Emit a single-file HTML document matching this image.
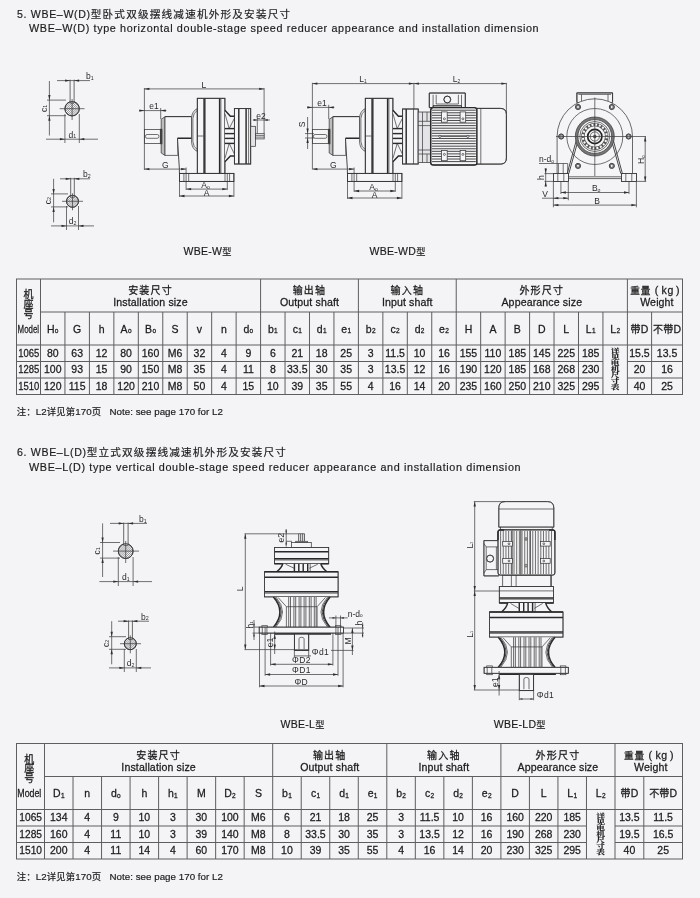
<!DOCTYPE html>
<html lang="zh"><head><meta charset="utf-8"><title>WBE double-stage speed reducer dimensions</title>
<style>
html,body{margin:0;padding:0}
body{width:700px;height:898px;position:relative;overflow:hidden;background:#f4f4f7;
 font-family:"Liberation Sans","Noto Sans CJK SC",sans-serif;font-size:10.5px;color:#1c1c1c;-webkit-text-stroke:.18px #1c1c1c}
.page{position:absolute;left:0;top:0;width:700px;height:898px;overflow:hidden;filter:blur(.28px);
 background:#f4f4f7}
.t{position:absolute;white-space:nowrap;line-height:12px;height:12px}
.cj{font-family:"Liberation Sans","Noto Sans CJK SC",sans-serif;color:#1c1c1c}
.cjv{display:inline-block;font-family:"Liberation Sans","Noto Sans CJK SC",sans-serif;color:#1c1c1c;width:10px;font-size:10px;line-height:9.6px;text-align:center}
.cjr{font-family:"Liberation Serif","Noto Serif CJK SC",serif;font-weight:bold;color:#1c1c1c;width:8.84px;font-size:8.84px;line-height:9.55px;text-align:center;transform:scaleY(0.645);transform-origin:0 0;white-space:nowrap}
.c{-webkit-text-stroke:.26px #1c1c1c;position:absolute;text-align:center;white-space:nowrap;line-height:12px;height:12px}
.c sub{font-size:6.5px;vertical-align:baseline;position:relative;top:0.5px;line-height:0;margin-left:0.3px}
svg.ov{position:absolute;left:0;top:0}
.grid line{stroke:#5e5e60;stroke-width:1}
</style></head>
<body><div class="page">
<div class="t" style="left:17px;top:7.8px;font-size:10.6px;letter-spacing:.66px">5. WBE–W(D)<span class="cj" style="font-size:10.6px;letter-spacing:1.2px">型卧式双级摆线减速机外形及安装尺寸</span></div>
<div class="t" style="left:29px;top:22.2px;font-size:10.8px;letter-spacing:.635px">WBE–W(D) type horizontal double-stage speed reducer appearance and installation dimension</div>
<div class="t" style="left:17px;top:445.6px;font-size:10.6px;letter-spacing:.66px">6. WBE–L(D)<span class="cj" style="font-size:10.6px;letter-spacing:1.2px">型立式双级摆线减速机外形及安装尺寸</span></div>
<div class="t" style="left:29px;top:461.2px;font-size:10.8px;letter-spacing:.635px">WBE–L(D) type vertical double-stage speed reducer appearance and installation dimension</div>
<div class="t" style="left:183.5px;top:245px;font-size:10.5px;letter-spacing:.3px">WBE-W<span class="cj" style="font-size:9.2px">型</span></div>
<div class="t" style="left:369.5px;top:245px;font-size:10.5px;letter-spacing:.3px">WBE-WD<span class="cj" style="font-size:9.2px">型</span></div>
<div class="t" style="left:280.5px;top:718.3px;font-size:10.5px;letter-spacing:.3px">WBE-L<span class="cj" style="font-size:9.2px">型</span></div>
<div class="t" style="left:493.7px;top:718.3px;font-size:10.5px;letter-spacing:.3px">WBE-LD<span class="cj" style="font-size:9.2px">型</span></div>
<div class="t" style="left:16.8px;top:406.3px;font-size:9.75px;letter-spacing:.03px"><span class="cj" style="font-size:9.4px;letter-spacing:.15px">注：</span>L2<span class="cj" style="font-size:9.4px;letter-spacing:.15px">详见第</span>170<span class="cj" style="font-size:9.4px;letter-spacing:.15px">页</span>&nbsp;&nbsp; Note: see page 170 for L2</div>
<div class="t" style="left:16.8px;top:870.8px;font-size:9.75px;letter-spacing:.03px"><span class="cj" style="font-size:9.4px;letter-spacing:.15px">注：</span>L2<span class="cj" style="font-size:9.4px;letter-spacing:.15px">详见第</span>170<span class="cj" style="font-size:9.4px;letter-spacing:.15px">页</span>&nbsp;&nbsp; Note: see page 170 for L2</div>
<svg class="ov grid" width="700" height="898" viewBox="0 0 700 898"><line x1="16.0" y1="279" x2="683.0" y2="279" stroke-width="1.2"/><line x1="16.0" y1="394.5" x2="683.0" y2="394.5" stroke-width="1.2"/><line x1="16.5" y1="279" x2="16.5" y2="394.5" stroke-width="1.2"/><line x1="682.5" y1="279" x2="682.5" y2="394.5" stroke-width="1.2"/><line x1="40.5" y1="312" x2="682.5" y2="312" stroke-width="1"/><line x1="16.5" y1="345" x2="682.5" y2="345" stroke-width="1"/><line x1="16.5" y1="361.5" x2="602.94" y2="361.5" stroke-width="1"/><line x1="627.4" y1="361.5" x2="682.5" y2="361.5" stroke-width="1"/><line x1="16.5" y1="378" x2="602.94" y2="378" stroke-width="1"/><line x1="627.4" y1="378" x2="682.5" y2="378" stroke-width="1"/><line x1="40.5" y1="279" x2="40.5" y2="394.5" stroke-width="1.1"/><line x1="64.95" y1="312" x2="64.95" y2="394.5" stroke-width="1"/><line x1="89.41" y1="312" x2="89.41" y2="394.5" stroke-width="1"/><line x1="113.86" y1="312" x2="113.86" y2="394.5" stroke-width="1"/><line x1="138.32" y1="312" x2="138.32" y2="394.5" stroke-width="1"/><line x1="162.77" y1="312" x2="162.77" y2="394.5" stroke-width="1"/><line x1="187.22" y1="312" x2="187.22" y2="394.5" stroke-width="1"/><line x1="211.68" y1="312" x2="211.68" y2="394.5" stroke-width="1"/><line x1="236.13" y1="312" x2="236.13" y2="394.5" stroke-width="1"/><line x1="260.59" y1="279" x2="260.59" y2="394.5" stroke-width="1.1"/><line x1="285.04" y1="312" x2="285.04" y2="394.5" stroke-width="1"/><line x1="309.49" y1="312" x2="309.49" y2="394.5" stroke-width="1"/><line x1="333.95" y1="312" x2="333.95" y2="394.5" stroke-width="1"/><line x1="358.4" y1="279" x2="358.4" y2="394.5" stroke-width="1.1"/><line x1="382.86" y1="312" x2="382.86" y2="394.5" stroke-width="1"/><line x1="407.31" y1="312" x2="407.31" y2="394.5" stroke-width="1"/><line x1="431.76" y1="312" x2="431.76" y2="394.5" stroke-width="1"/><line x1="456.22" y1="279" x2="456.22" y2="394.5" stroke-width="1.1"/><line x1="480.67" y1="312" x2="480.67" y2="394.5" stroke-width="1"/><line x1="505.13" y1="312" x2="505.13" y2="394.5" stroke-width="1"/><line x1="529.58" y1="312" x2="529.58" y2="394.5" stroke-width="1"/><line x1="554.03" y1="312" x2="554.03" y2="394.5" stroke-width="1"/><line x1="578.49" y1="312" x2="578.49" y2="394.5" stroke-width="1"/><line x1="602.94" y1="312" x2="602.94" y2="394.5" stroke-width="1"/><line x1="627.4" y1="279" x2="627.4" y2="394.5" stroke-width="1.1"/><line x1="651.6" y1="312" x2="651.6" y2="394.5" stroke-width="1"/></svg>
<div class="c" style="left:16.5px;width:24.0px;top:290.4px;height:30px;line-height:0"><span class="cjv">机<br>座<br>号</span></div>
<div class="c" style="left:12.5px;width:32.0px;top:322.6px"><span style="display:inline-block;transform:scaleX(0.75);font-size:10.5px">Model</span></div>
<div class="c" style="left:40.5px;width:220.09px;top:284.4px"><span class="cj" style="font-size:10px;letter-spacing:1.2px">安装尺寸</span></div>
<div class="c g2" style="left:40.5px;width:220.09px;top:296.3px;letter-spacing:.12px;font-size:10.6px">Installation size</div>
<div class="c" style="left:260.59px;width:97.81px;top:284.4px"><span class="cj" style="font-size:10px;letter-spacing:1.2px">输出轴</span></div>
<div class="c g2" style="left:260.59px;width:97.81px;top:296.3px;letter-spacing:.12px;font-size:10.6px">Output shaft</div>
<div class="c" style="left:358.4px;width:97.82px;top:284.4px"><span class="cj" style="font-size:10px;letter-spacing:1.2px">输入轴</span></div>
<div class="c g2" style="left:358.4px;width:97.82px;top:296.3px;letter-spacing:.12px;font-size:10.6px">Input shaft</div>
<div class="c" style="left:456.22px;width:171.18px;top:284.4px"><span class="cj" style="font-size:10px;letter-spacing:1.2px">外形尺寸</span></div>
<div class="c g2" style="left:456.22px;width:171.18px;top:296.3px;letter-spacing:.12px;font-size:10.6px">Appearance size</div>
<div class="c" style="left:627.4px;width:55.1px;top:284.4px"><span class="cj" style="font-size:9.6px;letter-spacing:.9px">重量</span><span style="letter-spacing:.3px;margin-left:3.5px">(</span><span style="letter-spacing:.6px;margin:0 2.2px 0 3px">kg</span><span>)</span></div>
<div class="c g2" style="left:627.4px;width:55.1px;top:296.3px;letter-spacing:.12px;font-size:10.6px"><span style='margin-left:4px'>Weight</span></div>
<div class="c" style="left:37.5px;width:30.45px;top:322.5px">H<sub>o</sub></div>
<div class="c" style="left:61.95px;width:30.46px;top:322.5px">G</div>
<div class="c" style="left:86.41px;width:30.45px;top:322.5px">h</div>
<div class="c" style="left:110.86px;width:30.46px;top:322.5px">A<sub>o</sub></div>
<div class="c" style="left:135.32px;width:30.45px;top:322.5px">B<sub>o</sub></div>
<div class="c" style="left:159.77px;width:30.45px;top:322.5px">S</div>
<div class="c" style="left:184.22px;width:30.46px;top:322.5px">v</div>
<div class="c" style="left:208.68px;width:30.45px;top:322.5px">n</div>
<div class="c" style="left:233.13px;width:30.46px;top:322.5px">d<sub>o</sub></div>
<div class="c" style="left:257.59px;width:30.45px;top:322.5px">b<sub>1</sub></div>
<div class="c" style="left:282.04px;width:30.45px;top:322.5px">c<sub>1</sub></div>
<div class="c" style="left:306.49px;width:30.46px;top:322.5px">d<sub>1</sub></div>
<div class="c" style="left:330.95px;width:30.45px;top:322.5px">e<sub>1</sub></div>
<div class="c" style="left:355.4px;width:30.46px;top:322.5px">b<sub>2</sub></div>
<div class="c" style="left:379.86px;width:30.45px;top:322.5px">c<sub>2</sub></div>
<div class="c" style="left:404.31px;width:30.45px;top:322.5px">d<sub>2</sub></div>
<div class="c" style="left:428.76px;width:30.46px;top:322.5px">e<sub>2</sub></div>
<div class="c" style="left:453.22px;width:30.45px;top:322.5px">H</div>
<div class="c" style="left:477.67px;width:30.46px;top:322.5px">A</div>
<div class="c" style="left:502.13px;width:30.45px;top:322.5px">B</div>
<div class="c" style="left:526.58px;width:30.45px;top:322.5px">D</div>
<div class="c" style="left:551.03px;width:30.46px;top:322.5px">L</div>
<div class="c" style="left:575.49px;width:30.45px;top:322.5px">L<sub>1</sub></div>
<div class="c" style="left:599.94px;width:30.46px;top:322.5px">L<sub>2</sub></div>
<div class="c" style="left:624.4px;width:30.2px;top:322.5px"><span class="cj" style="font-size:10px;letter-spacing:.2px">带</span>D</div>
<div class="c" style="left:648.6px;width:36.9px;top:322.5px"><span class="cj" style="font-size:10px;letter-spacing:.2px">不带</span>D</div>
<div class="c" style="left:13.5px;width:30.0px;top:346.75px"><span style="display:inline-block;transform:scaleX(0.9)">1065</span></div>
<div class="c" style="left:37.5px;width:30.45px;top:346.75px">80</div>
<div class="c" style="left:61.95px;width:30.46px;top:346.75px">63</div>
<div class="c" style="left:86.41px;width:30.45px;top:346.75px">12</div>
<div class="c" style="left:110.86px;width:30.46px;top:346.75px">80</div>
<div class="c" style="left:135.32px;width:30.45px;top:346.75px">160</div>
<div class="c" style="left:159.77px;width:30.45px;top:346.75px">M6</div>
<div class="c" style="left:184.22px;width:30.46px;top:346.75px">32</div>
<div class="c" style="left:208.68px;width:30.45px;top:346.75px">4</div>
<div class="c" style="left:233.13px;width:30.46px;top:346.75px">9</div>
<div class="c" style="left:257.59px;width:30.45px;top:346.75px">6</div>
<div class="c" style="left:282.04px;width:30.45px;top:346.75px">21</div>
<div class="c" style="left:306.49px;width:30.46px;top:346.75px">18</div>
<div class="c" style="left:330.95px;width:30.45px;top:346.75px">25</div>
<div class="c" style="left:355.4px;width:30.46px;top:346.75px">3</div>
<div class="c" style="left:379.86px;width:30.45px;top:346.75px">11.5</div>
<div class="c" style="left:404.31px;width:30.45px;top:346.75px">10</div>
<div class="c" style="left:428.76px;width:30.46px;top:346.75px">16</div>
<div class="c" style="left:453.22px;width:30.45px;top:346.75px">155</div>
<div class="c" style="left:477.67px;width:30.46px;top:346.75px">110</div>
<div class="c" style="left:502.13px;width:30.45px;top:346.75px">185</div>
<div class="c" style="left:526.58px;width:30.45px;top:346.75px">145</div>
<div class="c" style="left:551.03px;width:30.46px;top:346.75px">225</div>
<div class="c" style="left:575.49px;width:30.45px;top:346.75px">185</div>
<div class="c" style="left:624.4px;width:30.2px;top:346.75px">15.5</div>
<div class="c" style="left:648.6px;width:36.9px;top:346.75px">13.5</div>
<div class="c" style="left:13.5px;width:30.0px;top:363.25px"><span style="display:inline-block;transform:scaleX(0.9)">1285</span></div>
<div class="c" style="left:37.5px;width:30.45px;top:363.25px">100</div>
<div class="c" style="left:61.95px;width:30.46px;top:363.25px">93</div>
<div class="c" style="left:86.41px;width:30.45px;top:363.25px">15</div>
<div class="c" style="left:110.86px;width:30.46px;top:363.25px">90</div>
<div class="c" style="left:135.32px;width:30.45px;top:363.25px">150</div>
<div class="c" style="left:159.77px;width:30.45px;top:363.25px">M8</div>
<div class="c" style="left:184.22px;width:30.46px;top:363.25px">35</div>
<div class="c" style="left:208.68px;width:30.45px;top:363.25px">4</div>
<div class="c" style="left:233.13px;width:30.46px;top:363.25px">11</div>
<div class="c" style="left:257.59px;width:30.45px;top:363.25px">8</div>
<div class="c" style="left:282.04px;width:30.45px;top:363.25px">33.5</div>
<div class="c" style="left:306.49px;width:30.46px;top:363.25px">30</div>
<div class="c" style="left:330.95px;width:30.45px;top:363.25px">35</div>
<div class="c" style="left:355.4px;width:30.46px;top:363.25px">3</div>
<div class="c" style="left:379.86px;width:30.45px;top:363.25px">13.5</div>
<div class="c" style="left:404.31px;width:30.45px;top:363.25px">12</div>
<div class="c" style="left:428.76px;width:30.46px;top:363.25px">16</div>
<div class="c" style="left:453.22px;width:30.45px;top:363.25px">190</div>
<div class="c" style="left:477.67px;width:30.46px;top:363.25px">120</div>
<div class="c" style="left:502.13px;width:30.45px;top:363.25px">185</div>
<div class="c" style="left:526.58px;width:30.45px;top:363.25px">168</div>
<div class="c" style="left:551.03px;width:30.46px;top:363.25px">268</div>
<div class="c" style="left:575.49px;width:30.45px;top:363.25px">230</div>
<div class="c" style="left:624.4px;width:30.2px;top:363.25px">20</div>
<div class="c" style="left:648.6px;width:36.9px;top:363.25px">16</div>
<div class="c" style="left:13.5px;width:30.0px;top:379.75px"><span style="display:inline-block;transform:scaleX(0.9)">1510</span></div>
<div class="c" style="left:37.5px;width:30.45px;top:379.75px">120</div>
<div class="c" style="left:61.95px;width:30.46px;top:379.75px">115</div>
<div class="c" style="left:86.41px;width:30.45px;top:379.75px">18</div>
<div class="c" style="left:110.86px;width:30.46px;top:379.75px">120</div>
<div class="c" style="left:135.32px;width:30.45px;top:379.75px">210</div>
<div class="c" style="left:159.77px;width:30.45px;top:379.75px">M8</div>
<div class="c" style="left:184.22px;width:30.46px;top:379.75px">50</div>
<div class="c" style="left:208.68px;width:30.45px;top:379.75px">4</div>
<div class="c" style="left:233.13px;width:30.46px;top:379.75px">15</div>
<div class="c" style="left:257.59px;width:30.45px;top:379.75px">10</div>
<div class="c" style="left:282.04px;width:30.45px;top:379.75px">39</div>
<div class="c" style="left:306.49px;width:30.46px;top:379.75px">35</div>
<div class="c" style="left:330.95px;width:30.45px;top:379.75px">55</div>
<div class="c" style="left:355.4px;width:30.46px;top:379.75px">4</div>
<div class="c" style="left:379.86px;width:30.45px;top:379.75px">16</div>
<div class="c" style="left:404.31px;width:30.45px;top:379.75px">14</div>
<div class="c" style="left:428.76px;width:30.46px;top:379.75px">20</div>
<div class="c" style="left:453.22px;width:30.45px;top:379.75px">235</div>
<div class="c" style="left:477.67px;width:30.46px;top:379.75px">160</div>
<div class="c" style="left:502.13px;width:30.45px;top:379.75px">250</div>
<div class="c" style="left:526.58px;width:30.45px;top:379.75px">210</div>
<div class="c" style="left:551.03px;width:30.46px;top:379.75px">325</div>
<div class="c" style="left:575.49px;width:30.45px;top:379.75px">295</div>
<div class="c" style="left:624.4px;width:30.2px;top:379.75px">40</div>
<div class="c" style="left:648.6px;width:36.9px;top:379.75px">25</div>
<div style="position:absolute;left:610.77px;top:348.1px"><div class="cjr">详<br>见<br>电<br>机<br>尺<br>寸<br>表</div></div>
<svg class="ov grid" width="700" height="898" viewBox="0 0 700 898"><line x1="16.0" y1="743.5" x2="683.0" y2="743.5" stroke-width="1.2"/><line x1="16.0" y1="859" x2="683.0" y2="859" stroke-width="1.2"/><line x1="16.5" y1="743.5" x2="16.5" y2="859" stroke-width="1.2"/><line x1="682.5" y1="743.5" x2="682.5" y2="859" stroke-width="1.2"/><line x1="44.5" y1="776.5" x2="682.5" y2="776.5" stroke-width="1"/><line x1="16.5" y1="809.5" x2="682.5" y2="809.5" stroke-width="1"/><line x1="16.5" y1="826" x2="586.48" y2="826" stroke-width="1"/><line x1="615.0" y1="826" x2="682.5" y2="826" stroke-width="1"/><line x1="16.5" y1="842.5" x2="586.48" y2="842.5" stroke-width="1"/><line x1="615.0" y1="842.5" x2="682.5" y2="842.5" stroke-width="1"/><line x1="44.5" y1="743.5" x2="44.5" y2="859" stroke-width="1.1"/><line x1="73.03" y1="776.5" x2="73.03" y2="859" stroke-width="1"/><line x1="101.55" y1="776.5" x2="101.55" y2="859" stroke-width="1"/><line x1="130.07" y1="776.5" x2="130.07" y2="859" stroke-width="1"/><line x1="158.6" y1="776.5" x2="158.6" y2="859" stroke-width="1"/><line x1="187.12" y1="776.5" x2="187.12" y2="859" stroke-width="1"/><line x1="215.65" y1="776.5" x2="215.65" y2="859" stroke-width="1"/><line x1="244.17" y1="776.5" x2="244.17" y2="859" stroke-width="1"/><line x1="272.7" y1="743.5" x2="272.7" y2="859" stroke-width="1.1"/><line x1="301.22" y1="776.5" x2="301.22" y2="859" stroke-width="1"/><line x1="329.75" y1="776.5" x2="329.75" y2="859" stroke-width="1"/><line x1="358.27" y1="776.5" x2="358.27" y2="859" stroke-width="1"/><line x1="386.8" y1="743.5" x2="386.8" y2="859" stroke-width="1.1"/><line x1="415.32" y1="776.5" x2="415.32" y2="859" stroke-width="1"/><line x1="443.85" y1="776.5" x2="443.85" y2="859" stroke-width="1"/><line x1="472.38" y1="776.5" x2="472.38" y2="859" stroke-width="1"/><line x1="500.9" y1="743.5" x2="500.9" y2="859" stroke-width="1.1"/><line x1="529.42" y1="776.5" x2="529.42" y2="859" stroke-width="1"/><line x1="557.95" y1="776.5" x2="557.95" y2="859" stroke-width="1"/><line x1="586.48" y1="776.5" x2="586.48" y2="859" stroke-width="1"/><line x1="615.0" y1="743.5" x2="615.0" y2="859" stroke-width="1.1"/><line x1="643.8" y1="776.5" x2="643.8" y2="859" stroke-width="1"/></svg>
<div class="c" style="left:15.3px;width:28.0px;top:754.9px;height:30px;line-height:0"><span class="cjv">机<br>座<br>号</span></div>
<div class="c" style="left:11.3px;width:36.0px;top:787.1px"><span style="display:inline-block;transform:scaleX(0.84);font-size:10.5px">Model</span></div>
<div class="c" style="left:44.5px;width:228.2px;top:748.9px"><span class="cj" style="font-size:10px;letter-spacing:1.2px">安装尺寸</span></div>
<div class="c g2" style="left:44.5px;width:228.2px;top:760.8px;letter-spacing:.12px;font-size:10.6px">Installation size</div>
<div class="c" style="left:272.7px;width:114.1px;top:748.9px"><span class="cj" style="font-size:10px;letter-spacing:1.2px">输出轴</span></div>
<div class="c g2" style="left:272.7px;width:114.1px;top:760.8px;letter-spacing:.12px;font-size:10.6px">Output shaft</div>
<div class="c" style="left:386.8px;width:114.1px;top:748.9px"><span class="cj" style="font-size:10px;letter-spacing:1.2px">输入轴</span></div>
<div class="c g2" style="left:386.8px;width:114.1px;top:760.8px;letter-spacing:.12px;font-size:10.6px">Input shaft</div>
<div class="c" style="left:500.9px;width:114.1px;top:748.9px"><span class="cj" style="font-size:10px;letter-spacing:1.2px">外形尺寸</span></div>
<div class="c g2" style="left:500.9px;width:114.1px;top:760.8px;letter-spacing:.12px;font-size:10.6px">Appearance size</div>
<div class="c" style="left:615.0px;width:67.5px;top:748.9px"><span class="cj" style="font-size:9.6px;letter-spacing:.9px">重量</span><span style="letter-spacing:.3px;margin-left:3.5px">(</span><span style="letter-spacing:.6px;margin:0 2.2px 0 3px">kg</span><span>)</span></div>
<div class="c g2" style="left:615.0px;width:67.5px;top:760.8px;letter-spacing:.12px;font-size:10.6px"><span style='margin-left:4px'>Weight</span></div>
<div class="c" style="left:41.5px;width:34.53px;top:787.0px">D<sub>1</sub></div>
<div class="c" style="left:70.03px;width:34.52px;top:787.0px">n</div>
<div class="c" style="left:98.55px;width:34.52px;top:787.0px">d<sub>o</sub></div>
<div class="c" style="left:127.07px;width:34.53px;top:787.0px">h</div>
<div class="c" style="left:155.6px;width:34.52px;top:787.0px">h<sub>1</sub></div>
<div class="c" style="left:184.12px;width:34.53px;top:787.0px">M</div>
<div class="c" style="left:212.65px;width:34.52px;top:787.0px">D<sub>2</sub></div>
<div class="c" style="left:241.17px;width:34.53px;top:787.0px">S</div>
<div class="c" style="left:269.7px;width:34.52px;top:787.0px">b<sub>1</sub></div>
<div class="c" style="left:298.22px;width:34.53px;top:787.0px">c<sub>1</sub></div>
<div class="c" style="left:326.75px;width:34.52px;top:787.0px">d<sub>1</sub></div>
<div class="c" style="left:355.27px;width:34.53px;top:787.0px">e<sub>1</sub></div>
<div class="c" style="left:383.8px;width:34.52px;top:787.0px">b<sub>2</sub></div>
<div class="c" style="left:412.32px;width:34.53px;top:787.0px">c<sub>2</sub></div>
<div class="c" style="left:440.85px;width:34.53px;top:787.0px">d<sub>2</sub></div>
<div class="c" style="left:469.38px;width:34.52px;top:787.0px">e<sub>2</sub></div>
<div class="c" style="left:497.9px;width:34.52px;top:787.0px">D</div>
<div class="c" style="left:526.42px;width:34.53px;top:787.0px">L</div>
<div class="c" style="left:554.95px;width:34.53px;top:787.0px">L<sub>1</sub></div>
<div class="c" style="left:583.48px;width:34.52px;top:787.0px">L<sub>2</sub></div>
<div class="c" style="left:612.0px;width:34.8px;top:787.0px"><span class="cj" style="font-size:10px;letter-spacing:.2px">带</span>D</div>
<div class="c" style="left:640.8px;width:44.7px;top:787.0px"><span class="cj" style="font-size:10px;letter-spacing:.2px">不带</span>D</div>
<div class="c" style="left:13.5px;width:34.0px;top:811.25px"><span style="display:inline-block;transform:scaleX(0.97)">1065</span></div>
<div class="c" style="left:41.5px;width:34.53px;top:811.25px">134</div>
<div class="c" style="left:70.03px;width:34.52px;top:811.25px">4</div>
<div class="c" style="left:98.55px;width:34.52px;top:811.25px">9</div>
<div class="c" style="left:127.07px;width:34.53px;top:811.25px">10</div>
<div class="c" style="left:155.6px;width:34.52px;top:811.25px">3</div>
<div class="c" style="left:184.12px;width:34.53px;top:811.25px">30</div>
<div class="c" style="left:212.65px;width:34.52px;top:811.25px">100</div>
<div class="c" style="left:241.17px;width:34.53px;top:811.25px">M6</div>
<div class="c" style="left:269.7px;width:34.52px;top:811.25px">6</div>
<div class="c" style="left:298.22px;width:34.53px;top:811.25px">21</div>
<div class="c" style="left:326.75px;width:34.52px;top:811.25px">18</div>
<div class="c" style="left:355.27px;width:34.53px;top:811.25px">25</div>
<div class="c" style="left:383.8px;width:34.52px;top:811.25px">3</div>
<div class="c" style="left:412.32px;width:34.53px;top:811.25px">11.5</div>
<div class="c" style="left:440.85px;width:34.53px;top:811.25px">10</div>
<div class="c" style="left:469.38px;width:34.52px;top:811.25px">16</div>
<div class="c" style="left:497.9px;width:34.52px;top:811.25px">160</div>
<div class="c" style="left:526.42px;width:34.53px;top:811.25px">220</div>
<div class="c" style="left:554.95px;width:34.53px;top:811.25px">185</div>
<div class="c" style="left:612.0px;width:34.8px;top:811.25px">13.5</div>
<div class="c" style="left:640.8px;width:44.7px;top:811.25px">11.5</div>
<div class="c" style="left:13.5px;width:34.0px;top:827.75px"><span style="display:inline-block;transform:scaleX(0.97)">1285</span></div>
<div class="c" style="left:41.5px;width:34.53px;top:827.75px">160</div>
<div class="c" style="left:70.03px;width:34.52px;top:827.75px">4</div>
<div class="c" style="left:98.55px;width:34.52px;top:827.75px">11</div>
<div class="c" style="left:127.07px;width:34.53px;top:827.75px">10</div>
<div class="c" style="left:155.6px;width:34.52px;top:827.75px">3</div>
<div class="c" style="left:184.12px;width:34.53px;top:827.75px">39</div>
<div class="c" style="left:212.65px;width:34.52px;top:827.75px">140</div>
<div class="c" style="left:241.17px;width:34.53px;top:827.75px">M8</div>
<div class="c" style="left:269.7px;width:34.52px;top:827.75px">8</div>
<div class="c" style="left:298.22px;width:34.53px;top:827.75px">33.5</div>
<div class="c" style="left:326.75px;width:34.52px;top:827.75px">30</div>
<div class="c" style="left:355.27px;width:34.53px;top:827.75px">35</div>
<div class="c" style="left:383.8px;width:34.52px;top:827.75px">3</div>
<div class="c" style="left:412.32px;width:34.53px;top:827.75px">13.5</div>
<div class="c" style="left:440.85px;width:34.53px;top:827.75px">12</div>
<div class="c" style="left:469.38px;width:34.52px;top:827.75px">16</div>
<div class="c" style="left:497.9px;width:34.52px;top:827.75px">190</div>
<div class="c" style="left:526.42px;width:34.53px;top:827.75px">268</div>
<div class="c" style="left:554.95px;width:34.53px;top:827.75px">230</div>
<div class="c" style="left:612.0px;width:34.8px;top:827.75px">19.5</div>
<div class="c" style="left:640.8px;width:44.7px;top:827.75px">16.5</div>
<div class="c" style="left:13.5px;width:34.0px;top:844.25px"><span style="display:inline-block;transform:scaleX(0.97)">1510</span></div>
<div class="c" style="left:41.5px;width:34.53px;top:844.25px">200</div>
<div class="c" style="left:70.03px;width:34.52px;top:844.25px">4</div>
<div class="c" style="left:98.55px;width:34.52px;top:844.25px">11</div>
<div class="c" style="left:127.07px;width:34.53px;top:844.25px">14</div>
<div class="c" style="left:155.6px;width:34.52px;top:844.25px">4</div>
<div class="c" style="left:184.12px;width:34.53px;top:844.25px">60</div>
<div class="c" style="left:212.65px;width:34.52px;top:844.25px">170</div>
<div class="c" style="left:241.17px;width:34.53px;top:844.25px">M8</div>
<div class="c" style="left:269.7px;width:34.52px;top:844.25px">10</div>
<div class="c" style="left:298.22px;width:34.53px;top:844.25px">39</div>
<div class="c" style="left:326.75px;width:34.52px;top:844.25px">35</div>
<div class="c" style="left:355.27px;width:34.53px;top:844.25px">55</div>
<div class="c" style="left:383.8px;width:34.52px;top:844.25px">4</div>
<div class="c" style="left:412.32px;width:34.53px;top:844.25px">16</div>
<div class="c" style="left:440.85px;width:34.53px;top:844.25px">14</div>
<div class="c" style="left:469.38px;width:34.52px;top:844.25px">20</div>
<div class="c" style="left:497.9px;width:34.52px;top:844.25px">230</div>
<div class="c" style="left:526.42px;width:34.53px;top:844.25px">325</div>
<div class="c" style="left:554.95px;width:34.53px;top:844.25px">295</div>
<div class="c" style="left:612.0px;width:34.8px;top:844.25px">40</div>
<div class="c" style="left:640.8px;width:44.7px;top:844.25px">25</div>
<div style="position:absolute;left:596.34px;top:812.6px"><div class="cjr">详<br>见<br>电<br>机<br>尺<br>寸<br>表</div></div>
<svg class="ov dw" width="700" height="898" viewBox="0 0 700 898">
<style>
.dw{fill:none;stroke:#3a3a3a;stroke-width:.75;stroke-linecap:butt;stroke-linejoin:miter}
.dw .d{stroke:#3c3c3c;stroke-width:.72}
.dw .b{stroke:#2a2a2a;stroke-width:1.45}
.dw .m{stroke:#363636;stroke-width:.9}
.dw .a{fill:#2e2e2e;stroke:none}
.dw .w{fill:#f5f5f8}
.dw .g{fill:#e4e4e8}
.dw .gg{fill:#bdbdbd}
.dw .k{fill:#444}
.dw text{fill:#2a2a2a;stroke:none;font-family:"Liberation Sans",sans-serif;font-size:8.5px}
.dw .hs{stroke:#3a3a3a;stroke-width:.5}
</style>
<g><circle class="w" cx="72.1" cy="108.7" r="7.2"/><clipPath id="kh1"><circle cx="72.1" cy="108.7" r="7.2"/></clipPath><g clip-path="url(#kh1)" class="hs"><path d="M50.5 115.9L64.9 101.5"/><path d="M52.6 115.9L67 101.5"/><path d="M54.7 115.9L69.1 101.5"/><path d="M56.8 115.9L71.2 101.5"/><path d="M58.9 115.9L73.3 101.5"/><path d="M61 115.9L75.4 101.5"/><path d="M63.1 115.9L77.5 101.5"/><path d="M65.2 115.9L79.6 101.5"/><path d="M67.3 115.9L81.7 101.5"/><path d="M69.4 115.9L83.8 101.5"/><path d="M71.5 115.9L85.9 101.5"/><path d="M73.6 115.9L88 101.5"/><path d="M75.7 115.9L90.1 101.5"/><path d="M77.8 115.9L92.2 101.5"/></g><path class="w" stroke="none" d="M70.1 101H74.1V103H70.1Z"/><circle class="m" cx="72.1" cy="108.7" r="7.2"/><path d="M70.1 79.6L70.1 103"/><path d="M74.1 79.6L74.1 103"/><path d="M70.1 103L74.1 103"/><path class="d" d="M57 80.6L90 80.6"/><path class="a" d="M70.1 80.6L65.1 81.75L65.1 79.45Z"/><path class="a" d="M74.1 80.6L79.1 79.45L79.1 81.75Z"/><text x="86" y="79.2" font-size="8.5" text-anchor="start">b<tspan font-size="5.27" dy="0.6">1</tspan></text><path class="d" d="M49.4 81L49.4 135.5"/><path class="d" d="M47 100.1L66 100.1"/><path class="d" d="M47 115.7L66 115.7"/><path class="a" d="M49.4 100.1L48.25 95.1L50.55 95.1Z"/><path class="a" d="M49.4 115.7L50.55 120.7L48.25 120.7Z"/><text x="46.6" y="108.4" font-size="8.5" text-anchor="middle" transform="rotate(-90 46.6 108.4)">c<tspan font-size="5.27" dy="0.6">1</tspan></text><path class="d" d="M46 139.2L98 139.2"/><path class="d" d="M64.9 114L64.9 143"/><path class="d" d="M79.3 114L79.3 143"/><path class="a" d="M64.9 139.2L59.9 140.35L59.9 138.05Z"/><path class="a" d="M79.3 139.2L84.3 138.05L84.3 140.35Z"/><text x="72.3" y="137.6" font-size="8.5" text-anchor="middle">d<tspan font-size="5.27" dy="0.6">1</tspan></text><path class="d" d="M59.7 108.7L84.5 108.7"/><path class="d" d="M72.1 99L72.1 120"/></g><g><circle class="w" cx="72.5" cy="201.3" r="6"/><clipPath id="kh2"><circle cx="72.5" cy="201.3" r="6"/></clipPath><g clip-path="url(#kh2)" class="hs"><path d="M54.5 207.3L66.5 195.3"/><path d="M56.6 207.3L68.6 195.3"/><path d="M58.7 207.3L70.7 195.3"/><path d="M60.8 207.3L72.8 195.3"/><path d="M62.9 207.3L74.9 195.3"/><path d="M65 207.3L77 195.3"/><path d="M67.1 207.3L79.1 195.3"/><path d="M69.2 207.3L81.2 195.3"/><path d="M71.3 207.3L83.3 195.3"/><path d="M73.4 207.3L85.4 195.3"/><path d="M75.5 207.3L87.5 195.3"/><path d="M77.6 207.3L89.6 195.3"/></g><path class="w" stroke="none" d="M70.7 194.8H74.3V197.2H70.7Z"/><circle class="m" cx="72.5" cy="201.3" r="6"/><path d="M70.7 177.8L70.7 197.2"/><path d="M74.3 177.8L74.3 197.2"/><path d="M70.7 197.2L74.3 197.2"/><path class="d" d="M60 178.8L90 178.8"/><path class="a" d="M70.7 178.8L65.7 179.95L65.7 177.65Z"/><path class="a" d="M74.3 178.8L79.3 177.65L79.3 179.95Z"/><text x="83" y="177.4" font-size="8.5" text-anchor="start">b<tspan font-size="5.27" dy="0.6">2</tspan></text><path class="d" d="M53.6 178.8L53.6 222.3"/><path class="d" d="M51 193.9L68 193.9"/><path class="d" d="M51 206.9L68 206.9"/><path class="a" d="M53.6 193.9L52.45 188.9L54.75 188.9Z"/><path class="a" d="M53.6 206.9L54.75 211.9L52.45 211.9Z"/><text x="50.8" y="200.6" font-size="8.5" text-anchor="middle" transform="rotate(-90 50.8 200.6)">c<tspan font-size="5.27" dy="0.6">2</tspan></text><path class="d" d="M51 225.9L94 225.9"/><path class="d" d="M66.5 206L66.5 230"/><path class="d" d="M78.5 206L78.5 230"/><path class="a" d="M66.5 225.9L61.5 227.05L61.5 224.75Z"/><path class="a" d="M78.5 225.9L83.5 224.75L83.5 227.05Z"/><text x="72.7" y="224.3" font-size="8.5" text-anchor="middle">d<tspan font-size="5.27" dy="0.6">2</tspan></text><path class="d" d="M62 201.3L83 201.3"/><path class="d" d="M72.5 193.3L72.5 210.3"/></g><g><circle class="w" cx="125.7" cy="551.1" r="7.4"/><clipPath id="kh3"><circle cx="125.7" cy="551.1" r="7.4"/></clipPath><g clip-path="url(#kh3)" class="hs"><path d="M103.5 558.5L118.3 543.7"/><path d="M105.6 558.5L120.4 543.7"/><path d="M107.7 558.5L122.5 543.7"/><path d="M109.8 558.5L124.6 543.7"/><path d="M111.9 558.5L126.7 543.7"/><path d="M114 558.5L128.8 543.7"/><path d="M116.1 558.5L130.9 543.7"/><path d="M118.2 558.5L133 543.7"/><path d="M120.3 558.5L135.1 543.7"/><path d="M122.4 558.5L137.2 543.7"/><path d="M124.5 558.5L139.3 543.7"/><path d="M126.6 558.5L141.4 543.7"/><path d="M128.7 558.5L143.5 543.7"/><path d="M130.8 558.5L145.6 543.7"/><path d="M132.9 558.5L147.7 543.7"/></g><path class="w" stroke="none" d="M123.7 543.2H128.1V545.3H123.7Z"/><circle class="m" cx="125.7" cy="551.1" r="7.4"/><path d="M123.7 522.6L123.7 545.3"/><path d="M128.1 522.6L128.1 545.3"/><path d="M123.7 545.3L128.1 545.3"/><path class="d" d="M110 523.4L147 523.4"/><path class="a" d="M123.7 523.4L118.7 524.55L118.7 522.25Z"/><path class="a" d="M128.1 523.4L133.1 522.25L133.1 524.55Z"/><text x="139" y="522" font-size="8.5" text-anchor="start">b<tspan font-size="5.27" dy="0.6">1</tspan></text><path class="d" d="M102.6 523.4L102.6 577"/><path class="d" d="M100 542.5L120 542.5"/><path class="d" d="M100 558.1L120 558.1"/><path class="a" d="M102.6 542.5L101.45 537.5L103.75 537.5Z"/><path class="a" d="M102.6 558.1L103.75 563.1L101.45 563.1Z"/><text x="99.8" y="550.9" font-size="8.5" text-anchor="middle" transform="rotate(-90 99.8 550.9)">c<tspan font-size="5.27" dy="0.6">1</tspan></text><path class="d" d="M99.4 581.6L152 581.6"/><path class="d" d="M118.3 557L118.3 586"/><path class="d" d="M133.1 557L133.1 586"/><path class="a" d="M118.3 581.6L113.3 582.75L113.3 580.45Z"/><path class="a" d="M133.1 581.6L138.1 580.45L138.1 582.75Z"/><text x="125.9" y="580" font-size="8.5" text-anchor="middle">d<tspan font-size="5.27" dy="0.6">1</tspan></text><path class="d" d="M113 551.1L139 551.1"/><path class="d" d="M125.7 541L125.7 563"/></g><g><circle class="w" cx="130.3" cy="643.7" r="6"/><clipPath id="kh4"><circle cx="130.3" cy="643.7" r="6"/></clipPath><g clip-path="url(#kh4)" class="hs"><path d="M112.3 649.7L124.3 637.7"/><path d="M114.4 649.7L126.4 637.7"/><path d="M116.5 649.7L128.5 637.7"/><path d="M118.6 649.7L130.6 637.7"/><path d="M120.7 649.7L132.7 637.7"/><path d="M122.8 649.7L134.8 637.7"/><path d="M124.9 649.7L136.9 637.7"/><path d="M127 649.7L139 637.7"/><path d="M129.1 649.7L141.1 637.7"/><path d="M131.2 649.7L143.2 637.7"/><path d="M133.3 649.7L145.3 637.7"/><path d="M135.4 649.7L147.4 637.7"/></g><path class="w" stroke="none" d="M128.6 637.2H132.4V639.4H128.6Z"/><circle class="m" cx="130.3" cy="643.7" r="6"/><path d="M128.6 620.4L128.6 639.4"/><path d="M132.4 620.4L132.4 639.4"/><path d="M128.6 639.4L132.4 639.4"/><path class="d" d="M118 621.2L149 621.2"/><path class="a" d="M128.6 621.2L123.6 622.35L123.6 620.05Z"/><path class="a" d="M132.4 621.2L137.4 620.05L137.4 622.35Z"/><text x="141" y="619.8" font-size="8.5" text-anchor="start">b<tspan font-size="5.27" dy="0.6">2</tspan></text><path class="d" d="M111.7 621.2L111.7 664.3"/><path class="d" d="M109 636.7L126 636.7"/><path class="d" d="M109 649.3L126 649.3"/><path class="a" d="M111.7 636.7L110.55 631.7L112.85 631.7Z"/><path class="a" d="M111.7 649.3L112.85 654.3L110.55 654.3Z"/><text x="108.9" y="643.5" font-size="8.5" text-anchor="middle" transform="rotate(-90 108.9 643.5)">c<tspan font-size="5.27" dy="0.6">2</tspan></text><path class="d" d="M109 667.9L151 667.9"/><path class="d" d="M124.3 649L124.3 672"/><path class="d" d="M136.3 649L136.3 672"/><path class="a" d="M124.3 667.9L119.3 669.05L119.3 666.75Z"/><path class="a" d="M136.3 667.9L141.3 666.75L141.3 669.05Z"/><text x="130.5" y="666.3" font-size="8.5" text-anchor="middle">d<tspan font-size="5.27" dy="0.6">2</tspan></text><path class="d" d="M120 643.7L141 643.7"/><path class="d" d="M130.3 635.3L130.3 653.3"/></g>
<g><rect class="w" x="144.4" y="129.4" width="16.3" height="14"/><rect class="d" x="145.5" y="134.5" width="13.4" height="3.8" rx="1.6"/><path class="gg" d="M161.2 119.2L165 116.8V155.4L161.2 153Z"/><rect class="k" x="160.3" y="129.2" width="1.7" height="14.6"/><path class="w" d="M165 116.6H191.6V138.3H177.5L177.9 155.4H165Z"/><path class="m" d="M165 116.6H191.6"/><path class="w" stroke="none" d="M177.5 138.3H197.3V173.4H179.5V169.5Z"/><path class="b" d="M177.5 138.3H192"/><path class="m" d="M177.5 138.3L179.4 169.5V173.4"/><path class="w" d="M197.3 108.6Q191.9 111.2 191.6 118V142Q191.9 148.8 197.3 151.4Z"/><path class="d" d="M197.3 110.4Q193.2 112.6 192.9 118.4V141.6Q193.2 147.2 197.3 149.6"/><rect class="w" x="197.3" y="98.3" width="27.6" height="75.1"/><path class="d" d="M203.5 98.3L203.5 173.4"/><path class="b" d="M204.8 98.3L204.8 173.4"/><path class="b" d="M219.6 98.3L219.6 173.4"/><path class="d" d="M220.9 98.3L220.9 173.4"/><path class="d" d="M197.3 136L203.5 136"/><rect class="m" x="197.3" y="98.3" width="27.6" height="75.1"/><path class="w" stroke="none" d="M224.9 110.3L230.4 116.3H234.4V156H230.4L224.9 161.7Z"/><path class="b" d="M224.9 110.3L230.4 116.3H234.4M224.9 161.7L230.4 156H234.4"/><path class="d" d="M234.4 118.3L229.2 128.6M234.4 154L229.2 143.4M224.9 113.5L229.2 128.6M224.9 158.5L229.2 143.4"/><path class="b" d="M224.9 128.6L234.4 128.6"/><path class="b" d="M224.9 133.6L234.4 133.6"/><path class="b" d="M224.9 138.4L234.4 138.4"/><path class="b" d="M224.9 143.4L234.4 143.4"/><rect class="w" x="179.5" y="173.4" width="54.4" height="8"/><path class="d" d="M183.9 173.4L183.9 181.4"/><path class="d" d="M186.1 173.4L186.1 181.4"/><path class="d" d="M188.7 173.4L188.7 181.4"/><path class="d" d="M225 173.4L225 181.4"/><path class="d" d="M227.3 173.4L227.3 181.4"/><path class="d" d="M229.6 173.4L229.6 181.4"/><rect class="m" x="179.5" y="173.4" width="54.4" height="8"/><path class="d" d="M139 110.6L166.4 110.6"/><path class="a" d="M144.4 110.6L139.4 111.75L139.4 109.45Z"/><path class="a" d="M160.7 110.6L165.7 109.45L165.7 111.75Z"/><path class="d" d="M160.7 108L160.7 119"/><text x="153.9" y="109.3" font-size="7.1" text-anchor="middle">e1</text><path class="d" d="M144.4 169.1L186.1 169.1"/><path class="a" d="M144.4 169.1L149.4 167.95L149.4 170.25Z"/><path class="a" d="M186.1 169.1L181.1 170.25L181.1 167.95Z"/><path class="d" d="M186.1 167.5L186.1 173.4"/><text x="165.3" y="168.3" font-size="8.2" text-anchor="middle">G</text><path class="d" d="M186.1 189.1L227.3 189.1"/><path class="a" d="M186.1 189.1L191.1 187.95L191.1 190.25Z"/><path class="a" d="M227.3 189.1L222.3 190.25L222.3 187.95Z"/><path class="d" d="M186.1 181.4L186.1 189.9"/><path class="d" d="M227.3 181.4L227.3 189.9"/><text x="205.6" y="188" font-size="8.2" text-anchor="middle">A<tspan font-size="5.08" dy="0.6">o</tspan></text><path class="d" d="M179.5 196L233.9 196"/><path class="a" d="M179.5 196L184.5 194.85L184.5 197.15Z"/><path class="a" d="M233.9 196L228.9 197.15L228.9 194.85Z"/><path class="d" d="M179.5 181.4L179.5 196.9"/><path class="d" d="M233.9 181.4L233.9 196.9"/><text x="206.7" y="195.5" font-size="8.2" text-anchor="middle">A</text></g><path class="d" d="M144.4 88L144.4 170"/><rect class="w" x="234.4" y="108.6" width="16.3" height="55.4"/><path class="b" d="M238.8 108.6L238.8 164"/><path class="b" d="M246.1 108.6L246.1 164"/><path class="d" d="M248.6 108.6L248.6 164"/><rect class="m" x="234.4" y="108.6" width="16.3" height="55.4"/><rect class="g" x="250.7" y="126.3" width="4.9" height="20"/><rect class="w" x="255.6" y="133.7" width="8.6" height="5.2"/><path class="d" d="M255.6 135.4H264.2M255.6 137.1H264.2"/><path class="d" d="M144.4 88.9L264.1 88.9"/><path class="a" d="M144.4 88.9L149.4 87.75L149.4 90.05Z"/><path class="a" d="M264.1 88.9L259.1 90.05L259.1 87.75Z"/><path class="d" d="M264.1 88L264.1 134"/><text x="203.8" y="88" font-size="7.8" text-anchor="middle">L</text><path class="d" d="M252.9 120L269.9 120"/><path class="a" d="M257.3 120L253.7 120.9L253.7 119.1Z"/><path class="a" d="M264.1 120L267.7 119.1L267.7 120.9Z"/><path class="d" d="M257.3 118.5L257.3 133.7"/><text x="260.9" y="118.6" font-size="7.4" text-anchor="middle">e2</text>
<g transform="translate(168.0,0)"><rect class="w" x="144.4" y="129.4" width="16.3" height="14"/><rect class="d" x="145.5" y="134.5" width="13.4" height="3.8" rx="1.6"/><path class="gg" d="M161.2 119.2L165 116.8V155.4L161.2 153Z"/><rect class="k" x="160.3" y="129.2" width="1.7" height="14.6"/><path class="w" d="M165 116.6H191.6V138.3H177.5L177.9 155.4H165Z"/><path class="m" d="M165 116.6H191.6"/><path class="w" stroke="none" d="M177.5 138.3H197.3V173.4H179.5V169.5Z"/><path class="b" d="M177.5 138.3H192"/><path class="m" d="M177.5 138.3L179.4 169.5V173.4"/><path class="w" d="M197.3 108.6Q191.9 111.2 191.6 118V142Q191.9 148.8 197.3 151.4Z"/><path class="d" d="M197.3 110.4Q193.2 112.6 192.9 118.4V141.6Q193.2 147.2 197.3 149.6"/><rect class="w" x="197.3" y="98.3" width="27.6" height="75.1"/><path class="d" d="M203.5 98.3L203.5 173.4"/><path class="b" d="M204.8 98.3L204.8 173.4"/><path class="b" d="M219.6 98.3L219.6 173.4"/><path class="d" d="M220.9 98.3L220.9 173.4"/><path class="d" d="M197.3 136L203.5 136"/><rect class="m" x="197.3" y="98.3" width="27.6" height="75.1"/><path class="w" stroke="none" d="M224.9 110.3L230.4 116.3H234.4V156H230.4L224.9 161.7Z"/><path class="b" d="M224.9 110.3L230.4 116.3H234.4M224.9 161.7L230.4 156H234.4"/><path class="d" d="M234.4 118.3L229.2 128.6M234.4 154L229.2 143.4M224.9 113.5L229.2 128.6M224.9 158.5L229.2 143.4"/><path class="b" d="M224.9 128.6L234.4 128.6"/><path class="b" d="M224.9 133.6L234.4 133.6"/><path class="b" d="M224.9 138.4L234.4 138.4"/><path class="b" d="M224.9 143.4L234.4 143.4"/><rect class="w" x="179.5" y="173.4" width="54.4" height="8"/><path class="d" d="M183.9 173.4L183.9 181.4"/><path class="d" d="M186.1 173.4L186.1 181.4"/><path class="d" d="M188.7 173.4L188.7 181.4"/><path class="d" d="M225 173.4L225 181.4"/><path class="d" d="M227.3 173.4L227.3 181.4"/><path class="d" d="M229.6 173.4L229.6 181.4"/><rect class="m" x="179.5" y="173.4" width="54.4" height="8"/><path class="d" d="M139 107.4L166.4 107.4"/><path class="a" d="M144.4 107.4L139.4 108.55L139.4 106.25Z"/><path class="a" d="M160.7 107.4L165.7 106.25L165.7 108.55Z"/><path class="d" d="M160.7 104.8L160.7 119"/><text x="153.9" y="106.1" font-size="7.1" text-anchor="middle">e1</text><path class="d" d="M144.4 169.1L186.1 169.1"/><path class="a" d="M144.4 169.1L149.4 167.95L149.4 170.25Z"/><path class="a" d="M186.1 169.1L181.1 170.25L181.1 167.95Z"/><path class="d" d="M186.1 167.5L186.1 173.4"/><text x="165.3" y="168.3" font-size="8.2" text-anchor="middle">G</text><path class="d" d="M186.1 191L227.3 191"/><path class="a" d="M186.1 191L191.1 189.85L191.1 192.15Z"/><path class="a" d="M227.3 191L222.3 192.15L222.3 189.85Z"/><path class="d" d="M186.1 181.4L186.1 191.8"/><path class="d" d="M227.3 181.4L227.3 191.8"/><text x="205.6" y="189.9" font-size="8.2" text-anchor="middle">A<tspan font-size="5.08" dy="0.6">o</tspan></text><path class="d" d="M179.5 198L233.9 198"/><path class="a" d="M179.5 198L184.5 196.85L184.5 199.15Z"/><path class="a" d="M233.9 198L228.9 199.15L228.9 196.85Z"/><path class="d" d="M179.5 181.4L179.5 198.9"/><path class="d" d="M233.9 181.4L233.9 198.9"/><text x="206.7" y="197.5" font-size="8.2" text-anchor="middle">A</text></g><path class="d" d="M312.4 82.8L312.4 169.3"/><path class="d" d="M307.6 117L307.6 149"/><path class="d" d="M305 133.6L314 133.6"/><path class="d" d="M305 138L314 138"/><path class="a" d="M307.6 133.6L306.45 128.6L308.75 128.6Z"/><path class="a" d="M307.6 138L308.75 143L306.45 143Z"/><text x="305.3" y="124.5" font-size="7.6" text-anchor="middle" transform="rotate(-90 305.3 124.5)">S</text><path class="d" d="M312.4 83.6L506.4 83.6"/><path class="a" d="M312.4 83.6L317.4 82.45L317.4 84.75Z"/><path class="a" d="M413.9 83.6L408.9 84.75L408.9 82.45Z"/><path class="a" d="M413.9 83.6L418.9 82.45L418.9 84.75Z"/><path class="a" d="M506.4 83.6L501.4 84.75L501.4 82.45Z"/><path class="d" d="M413.9 82.8L413.9 109"/><path class="d" d="M506.4 82.8L506.4 114"/><text x="363" y="82.2" font-size="7.8" text-anchor="middle">L<tspan font-size="4.84" dy="0.6">1</tspan></text><text x="456.5" y="82.2" font-size="7.8" text-anchor="middle">L<tspan font-size="4.84" dy="0.6">2</tspan></text><rect class="w" x="402.6" y="109" width="15.6" height="55"/><path class="b" d="M406.2 109L406.2 164"/><path class="d" d="M413.5 109L413.5 164"/><rect class="m" x="402.6" y="109" width="15.6" height="55"/><rect class="g" x="418.2" y="112" width="12.6" height="50.5"/><path class="d" d="M418.2 121.3H430.8M418.2 125.6H430.8M418.2 150H430.8M418.2 154H430.8M422.5 112V162.5M427 112V121.3M427 154V162.5"/><path class="w" d="M429.3 93H465.3V107.6H461.5V105.8H433.1V107.6H429.3Z"/><path class="d" d="M433.1 105.8V94.8M461.5 105.8V94.8M436.2 94.8V104M458.4 94.8V104M436.2 104H458.4"/><circle class="w" cx="447.3" cy="99.5" r="3.4"/><circle class="m" cx="447.3" cy="99.5" r="3.4"/><path class="m" d="M429.3 93H465.3V107.6H461.5V105.8H433.1V107.6H429.3Z"/><rect class="w" x="430.7" y="107.6" width="46.3" height="57.4" rx="2.6"/><path class="m" d="M432 110.2L475.8 110.2"/><path class="m" d="M432 112.77L475.8 112.77"/><path class="m" d="M432 115.34L475.8 115.34"/><path class="m" d="M432 117.91L475.8 117.91"/><path class="m" d="M432 120.48L475.8 120.48"/><path class="m" d="M432 123.05L475.8 123.05"/><path class="m" d="M432 125.62L475.8 125.62"/><path class="m" d="M432 128.19L475.8 128.19"/><path class="m" d="M432 130.76L475.8 130.76"/><path class="m" d="M432 133.33L475.8 133.33"/><path class="m" d="M432 135.9L475.8 135.9"/><path class="m" d="M432 138.47L475.8 138.47"/><path class="m" d="M432 141.04L475.8 141.04"/><path class="m" d="M432 143.61L475.8 143.61"/><path class="m" d="M432 146.18L475.8 146.18"/><path class="m" d="M432 148.75L475.8 148.75"/><path class="m" d="M432 151.32L475.8 151.32"/><path class="m" d="M432 153.89L475.8 153.89"/><path class="m" d="M432 156.46L475.8 156.46"/><path class="m" d="M432 159.03L475.8 159.03"/><path class="m" d="M432 161.6L475.8 161.6"/><rect class="w" x="441.6" y="111.9" width="5.6" height="10.3"/><circle class="d" cx="444.4" cy="118.8" r="1"/><rect class="w" x="460.1" y="111.9" width="5.6" height="10.3"/><circle class="d" cx="462.9" cy="118.8" r="1"/><rect class="w" x="441.6" y="150.4" width="5.6" height="10.3"/><circle class="d" cx="444.4" cy="154.4" r="1"/><rect class="w" x="460.1" y="150.4" width="5.6" height="10.3"/><circle class="d" cx="462.9" cy="154.4" r="1"/><circle class="w" cx="439.9" cy="136.4" r="1.1"/><circle class="w" cx="467.9" cy="136.4" r="1.1"/><path class="d" d="M441 136.4L466.8 136.4"/><rect class="b" x="430.7" y="107.6" width="46.3" height="57.4" rx="2.6"/><path class="w" d="M477 108.4H500.4Q506.4 108.4 506.4 114.4V158.1Q506.4 164.1 500.4 164.1H477Z"/><path class="d" d="M480.8 108.4L480.8 164.1"/><path class="m" d="M477 108.4H500.4Q506.4 108.4 506.4 114.4V158.1Q506.4 164.1 500.4 164.1H477Z"/>
<rect class="w" x="576.9" y="92.9" width="35.7" height="9.5"/><path class="m" d="M576.9 92.9H612.6V102.4M576.9 102.4V92.9"/><path class="d" d="M578.4 94.4H611.1M581.5 94.4V101M608 94.4V101"/><path class="w" stroke="none" d="M557.1 173.6V136.5A37.7 37.7 0 0 1 632.5 136.5V173.6Z"/><circle class="d" cx="594.8" cy="136.5" r="28"/><path class="m" d="M576.6 139.2L567.2 173.6M578 140.6L568.8 173.6M613 139.2L622.4 173.6M611.6 140.6L620.8 173.6"/><circle cx="594.8" cy="136.5" r="18.2" fill="#f5f5f8" stroke="#777" stroke-width="2.6"/><circle class="d" cx="594.8" cy="136.5" r="19.5"/><circle cx="594.8" cy="136.5" r="16.9"/><circle class="d" cx="594.8" cy="136.5" r="15"/><circle cx="594.8" cy="136.5" r="11.9" fill="none" stroke="#555" stroke-width="3.4"/><circle cx="594.8" cy="136.5" r="11.9" fill="none" stroke="#f5f5f8" stroke-width="2.1" stroke-dasharray="2 1.74"/><circle cx="594.8" cy="136.5" r="7.1" fill="#f5f5f8" stroke="#222" stroke-width="1.7"/><circle class="d" cx="594.8" cy="136.5" r="4.6"/><circle cx="594.8" cy="136.5" r="1.5" fill="#555" stroke="#333" stroke-width=".5"/><circle class="w" cx="578" cy="107" r="2.5"/><circle cx="578" cy="107" r="2.5"/><circle class="d" cx="578" cy="107" r="1.5"/><circle class="w" cx="611.8" cy="107" r="2.5"/><circle cx="611.8" cy="107" r="2.5"/><circle class="d" cx="611.8" cy="107" r="1.5"/><circle class="w" cx="561.2" cy="136.5" r="2.5"/><circle cx="561.2" cy="136.5" r="2.5"/><circle class="d" cx="561.2" cy="136.5" r="1.5"/><circle class="w" cx="628.6" cy="136.5" r="2.5"/><circle cx="628.6" cy="136.5" r="2.5"/><circle class="d" cx="628.6" cy="136.5" r="1.5"/><circle class="w" cx="578" cy="165.9" r="2.5"/><circle cx="578" cy="165.9" r="2.5"/><circle class="d" cx="578" cy="165.9" r="1.5"/><circle class="w" cx="611.8" cy="165.9" r="2.5"/><circle cx="611.8" cy="165.9" r="2.5"/><circle class="d" cx="611.8" cy="165.9" r="1.5"/><path d="M557.1 173.6V136.5A37.7 37.7 0 0 1 632.5 136.5V173.6"/><path class="d" d="M594.8 97.5L594.8 176"/><path class="d" d="M556 136.5L646 136.5"/><path d="M568.4 176.8H621.6M568.4 178.6H621.6"/><rect class="w" x="553.4" y="173.6" width="15" height="7.8"/><rect class="w" x="621.4" y="173.6" width="15" height="7.8"/><path class="d" d="M557.8 173.6V181.4M563.8 173.6V181.4M625.8 173.6V181.4M631.8 173.6V181.4"/><rect x="553.4" y="173.6" width="15" height="7.8"/><rect x="621.4" y="173.6" width="15" height="7.8"/><path class="d" d="M645.2 136.5L645.2 181.4"/><path class="a" d="M645.2 136.5L646.35 141.5L644.05 141.5Z"/><path class="a" d="M645.2 181.4L644.05 176.4L646.35 176.4Z"/><path class="d" d="M636.4 181.4L646.2 181.4"/><text x="644.2" y="159.6" font-size="8.2" text-anchor="middle" transform="rotate(-90 644.2 159.6)">H<tspan font-size="5.08" dy="0.6">o</tspan></text><text x="539" y="162.3" font-size="8.2" text-anchor="start">n-d<tspan font-size="5.08" dy="0.6">o</tspan></text><path class="d" d="M539 163.5L567.7 163.5"/><path class="d" d="M558.4 163.5V173.6M563.2 163.5V173.6M567.7 163.5V173.6"/><path class="d" d="M545.7 168.3L545.7 186.3"/><path class="d" d="M544.5 173.6L553.4 173.6"/><path class="d" d="M544.5 181.4L553.4 181.4"/><path class="a" d="M545.7 173.6L544.55 168.6L546.85 168.6Z"/><path class="a" d="M545.7 181.4L546.85 186.4L544.55 186.4Z"/><text x="544.2" y="177.6" font-size="8" text-anchor="middle" transform="rotate(-90 544.2 177.6)">h</text><path class="d" d="M560.9 192.5L629 192.5"/><path class="a" d="M560.9 192.5L565.9 191.35L565.9 193.65Z"/><path class="a" d="M629 192.5L624 193.65L624 191.35Z"/><path class="d" d="M560.9 181.4L560.9 194"/><path class="d" d="M629 181.4L629 194"/><text x="596.2" y="190.9" font-size="8.4" text-anchor="middle">B<tspan font-size="5.21" dy="0.6">o</tspan></text><path class="d" d="M542 198.2L568.3 198.2"/><path class="a" d="M553.4 198.2L558.4 197.05L558.4 199.35Z"/><path class="a" d="M568.3 198.2L563.3 199.35L563.3 197.05Z"/><path class="d" d="M568.3 181.4L568.3 200.3"/><text x="545.2" y="197.2" font-size="8.2" text-anchor="middle">V</text><path class="d" d="M553.4 205.1L636.4 205.1"/><path class="a" d="M553.4 205.1L558.4 203.95L558.4 206.25Z"/><path class="a" d="M636.4 205.1L631.4 206.25L631.4 203.95Z"/><path class="d" d="M553.4 181.4L553.4 207.3"/><path class="d" d="M636.4 181.4L636.4 207.3"/><text x="597" y="203.5" font-size="8.4" text-anchor="middle">B</text>
<rect class="g" x="298.7" y="533.8" width="5.8" height="8.2"/><path class="d" d="M300.6 533.8V542M302.6 533.8V542"/><rect class="w" x="295.7" y="541.3" width="11.8" height="1.4"/><rect class="w" x="291.6" y="542.6" width="19.7" height="4.8"/><g><rect class="w" x="274.4" y="547.4" width="54.3" height="16.3"/><path class="b" d="M274.4 551.7L328.7 551.7"/><path class="b" d="M274.4 558.7L328.7 558.7"/><path class="d" d="M274.4 560L328.7 560"/><rect x="274.4" y="547.4" width="54.3" height="16.3"/><path class="b" d="M274.4 563.7L328.7 563.7"/><path class="w" stroke="none" d="M282.8 563.7L276.7 571.8H326.9L320.8 563.7Z"/><path class="b" d="M282.8 563.7Q281.8 567.5 276.7 571.8M320.8 563.7Q321.8 567.5 326.9 571.8"/><path class="d" d="M285.6 564.2L294 568.2M317.8 564.2L309.4 568.2"/><path class="b" d="M294.4 563.7L294.4 571.8"/><path class="b" d="M298.8 563.7L298.8 571.8"/><path class="b" d="M303.2 563.7L303.2 571.8"/><path class="b" d="M307.7 563.7L307.7 571.8"/><path class="d" d="M310.2 563.7L310.2 571.8"/><rect class="w" x="264.5" y="571.8" width="73.6" height="25.1"/><path class="b" d="M264.5 577.3L338.1 577.3"/><path class="b" d="M264.5 591.8L338.1 591.8"/><path class="d" d="M264.5 593.2L338.1 593.2"/><rect x="264.5" y="571.8" width="73.6" height="25.1"/><path class="b" d="M264.5 571.8L338.1 571.8"/><path class="w" stroke="none" d="M273.4 597Q286.4 612 273.4 627.1H330.1Q317.1 612 330.1 597Z"/><path class="b" d="M273.4 597Q286.4 612 273.4 627.1"/><path class="b" d="M330.1 597Q317.1 612 330.1 627.1"/><path class="m" d="M274.75 597Q287.9 612 274.75 627.1"/><path class="m" d="M328.75 597Q315.6 612 328.75 627.1"/><path class="d" d="M275.92 597Q289.2 612 275.92 627.1"/><path class="d" d="M327.58 597Q314.3 612 327.58 627.1"/><path class="d" d="M278 597.4L286.4 606.7H317.1L325.5 597.4M286.4 606.7V627.1M317.1 606.7V627.1"/><path d="M288.7 597L288.7 627.1"/><path d="M290.5 597L290.5 627.1"/><path d="M293.9 597L293.9 627.1"/><path d="M295.7 597L295.7 627.1"/><path d="M299.1 597L299.1 627.1"/><path d="M300.9 597L300.9 627.1"/><path d="M304.1 597L304.1 627.1"/><path d="M305.9 597L305.9 627.1"/><path d="M309.3 597L309.3 627.1"/><path d="M311.1 597L311.1 627.1"/><path d="M314.3 597L314.3 627.1"/><path d="M316.1 597L316.1 627.1"/><rect class="d" x="261.8" y="625.7" width="5.6" height="8.8"/><rect class="d" x="335.4" y="625.7" width="5.6" height="8.8"/><rect class="w" x="259.2" y="627.1" width="84.2" height="6"/><path class="d" d="M262.3 627.1V633.1M266.9 627.1V633.1M335.9 627.1V633.1M340.5 627.1V633.1"/><rect x="259.2" y="627.1" width="84.2" height="6"/><path class="b" d="M274.4 634L331 634"/><rect class="w" x="294.4" y="634" width="14.3" height="16.4"/><path class="d" d="M299 649V638.8Q299 637.3 301.55 637.3Q304.1 637.3 304.1 638.8V649"/><rect class="m" x="294.4" y="634" width="14.3" height="16.4"/></g><path class="d" d="M245.3 533.8L245.3 649.6"/><path class="a" d="M245.3 533.8L246.45 538.8L244.15 538.8Z"/><path class="a" d="M245.3 649.6L244.15 644.6L246.45 644.6Z"/><path class="d" d="M244.5 533.8L298.7 533.8"/><path class="d" d="M244.5 649.6L308.7 649.6"/><text x="243.2" y="589" font-size="7.8" text-anchor="middle" transform="rotate(-90 243.2 589)">L</text><path class="d" d="M286.2 529L286.2 546.7"/><path class="d" d="M286.2 541.3L292 541.3"/><path class="a" d="M286.2 533.8L285.4 530.6L287 530.6Z"/><path class="a" d="M286.2 541.3L287 544.5L285.4 544.5Z"/><text x="284.4" y="537.8" font-size="5.2" text-anchor="middle" transform="rotate(-90 284.4 537.8)">e2</text><path class="d" d="M254 620L254 640"/><path class="d" d="M252.5 627.1L259.2 627.1"/><path class="d" d="M252.5 633.1L259.2 633.1"/><path class="a" d="M254 627.1L253.2 623.7L254.8 623.7Z"/><path class="a" d="M254 633.1L254.8 636.5L253.2 636.5Z"/><text x="252.6" y="624.8" font-size="7" text-anchor="middle" transform="rotate(-90 252.6 624.8)">h<tspan font-size="4.34" dy="0.6">1</tspan></text><path class="d" d="M274.7 631.5L274.7 654"/><path class="a" d="M274.7 634L275.85 639L273.55 639Z"/><path class="a" d="M274.7 649.6L273.55 644.6L275.85 644.6Z"/><text x="273.2" y="642.4" font-size="6" text-anchor="middle" transform="rotate(-90 273.2 642.4)">e1</text><text x="347.7" y="616.6" font-size="7.6" text-anchor="start">n-d<tspan font-size="4.71" dy="0.6">o</tspan></text><path class="d" d="M329 617.9L347.7 617.9"/><path class="d" d="M335.9 615.5L335.9 627.1"/><path class="d" d="M340.5 615.5L340.5 627.1"/><path class="a" d="M335.9 617.9L332.5 618.7L332.5 617.1Z"/><path class="a" d="M340.5 617.9L343.9 617.1L343.9 618.7Z"/><path class="d" d="M362.6 622.5L362.6 637.4"/><path class="d" d="M343.4 628L364 628"/><path class="d" d="M343.4 633.1L364 633.1"/><path class="a" d="M362.6 628L361.8 624.8L363.4 624.8Z"/><path class="a" d="M362.6 633.1L363.4 636.3L361.8 636.3Z"/><text x="361.6" y="623.2" font-size="7.4" text-anchor="middle" transform="rotate(-90 361.6 623.2)">h</text><path class="d" d="M352.4 628L352.4 655"/><path class="a" d="M352.4 628L353.55 633L351.25 633Z"/><path class="a" d="M352.4 650.4L351.25 645.4L353.55 645.4Z"/><path class="d" d="M331 650.4L353.5 650.4"/><text x="351.4" y="641" font-size="7.4" text-anchor="middle" transform="rotate(-90 351.4 641)">M</text><path class="d" d="M294.4 655.9L311 655.9"/><path class="d" d="M294.4 650.4L294.4 657"/><path class="d" d="M308.7 650.4L308.7 657"/><text x="311.8" y="655.3" font-size="6.5" text-anchor="start" letter-spacing=".35">Φd1</text><path class="d" d="M270.6 664.3L332.9 664.3"/><path class="a" d="M270.6 664.3L275.6 663.15L275.6 665.45Z"/><path class="a" d="M332.9 664.3L327.9 665.45L327.9 663.15Z"/><path class="d" d="M270.6 633.1L270.6 665.6"/><path class="d" d="M332.9 633.1L332.9 665.6"/><text x="301.4" y="663" font-size="6.5" text-anchor="middle" letter-spacing=".35">ΦD2</text><path class="d" d="M265.1 674.5L338 674.5"/><path class="a" d="M265.1 674.5L270.1 673.35L270.1 675.65Z"/><path class="a" d="M338 674.5L333 675.65L333 673.35Z"/><path class="d" d="M265.1 627.1L265.1 675.8"/><path class="d" d="M338 627.1L338 675.8"/><text x="301.4" y="673.2" font-size="6.5" text-anchor="middle" letter-spacing=".35">ΦD1</text><path class="d" d="M259.5 686L343.1 686"/><path class="a" d="M259.5 686L264.5 684.85L264.5 687.15Z"/><path class="a" d="M343.1 686L338.1 687.15L338.1 684.85Z"/><path class="d" d="M259.5 633.1L259.5 687.3"/><path class="d" d="M343.1 633.1L343.1 687.3"/><text x="301.2" y="684.7" font-size="6.5" text-anchor="middle" letter-spacing=".35">ΦD</text>
<path class="w" d="M498.8 527.2V507.9Q498.8 501.6 505.1 501.6H547.5Q553.8 501.6 553.8 507.9V527.2Z"/><path class="d" d="M498.8 509L553.8 509"/><path d="M498.8 527.2V507.9Q498.8 501.6 505.1 501.6H547.5Q553.8 501.6 553.8 507.9V527.2Z"/><rect class="w" x="500.4" y="527.2" width="51.8" height="2.7"/><rect class="w" x="502.7" y="575.1" width="48.9" height="11.6"/><path class="d" d="M511.4 575.1V586.7M516.1 575.1V586.7M550.6 575.1V586.7"/><path class="w" d="M498.8 540.6H483.9V575.9H498.8Z"/><path class="d" d="M498.8 546.9H486.2V569.6H498.8M486.2 546.9L483.9 543.5M486.2 569.6L483.9 573M496.4 546.9V569.6"/><circle class="w" cx="490.1" cy="558.6" r="3.5"/><circle cx="490.1" cy="558.6" r="3.5"/><path d="M498.8 540.6H483.9V575.9H498.8"/><rect class="w" x="498" y="529.9" width="56.9" height="45.2" rx="2.2"/><path class="d" d="M500.6 531L500.6 574"/><path class="d" d="M503.28 531L503.28 574"/><path class="d" d="M505.96 531L505.96 574"/><path class="d" d="M508.64 531L508.64 574"/><path class="d" d="M511.32 531L511.32 574"/><path class="d" d="M514 531L514 574"/><path class="d" d="M516.68 531L516.68 574"/><path class="d" d="M519.36 531L519.36 574"/><path class="d" d="M522.04 531L522.04 574"/><path class="d" d="M524.72 531L524.72 574"/><path class="d" d="M527.4 531L527.4 574"/><path class="d" d="M530.08 531L530.08 574"/><path class="d" d="M532.76 531L532.76 574"/><path class="d" d="M535.44 531L535.44 574"/><path class="d" d="M538.12 531L538.12 574"/><path class="d" d="M540.8 531L540.8 574"/><path class="d" d="M543.48 531L543.48 574"/><path class="d" d="M546.16 531L546.16 574"/><path class="d" d="M548.84 531L548.84 574"/><path class="d" d="M551.52 531L551.52 574"/><path class="m" d="M512.1 530.5L512.1 574.5"/><path class="m" d="M520.8 530.5L520.8 574.5"/><path class="m" d="M530.2 530.5L530.2 574.5"/><rect class="w" x="502.7" y="541.4" width="9.8" height="4.7"/><circle class="d" cx="509" cy="543.75" r="0.9"/><rect class="w" x="540.4" y="541.4" width="9.8" height="4.7"/><circle class="d" cx="543.8" cy="543.75" r="0.9"/><rect class="w" x="502.7" y="558.6" width="9.8" height="4.7"/><circle class="d" cx="509" cy="560.95" r="0.9"/><rect class="w" x="540.4" y="558.6" width="9.8" height="4.7"/><circle class="d" cx="543.8" cy="560.95" r="0.9"/><ellipse class="w" cx="526" cy="539" rx=".9" ry="1.6"/><ellipse class="w" cx="526" cy="565.7" rx=".9" ry="1.6"/><rect class="m" x="498" y="529.9" width="56.9" height="45.2" rx="2.2"/><path class="b" d="M498 540V532.1Q498 529.9 500.2 529.9H504M554.9 540V532.1Q554.9 529.9 552.7 529.9H549"/><g transform="translate(224.9,40.2)"><rect class="w" x="274.4" y="546.4" width="54.3" height="16.3"/><path class="d" d="M274.4 550.7L328.7 550.7"/><path class="b" d="M274.4 557.7L328.7 557.7"/><path class="d" d="M274.4 559L328.7 559"/><rect x="274.4" y="546.4" width="54.3" height="16.3"/><path class="b" d="M274.4 562.7L328.7 562.7"/><path class="w" stroke="none" d="M282.8 562.7L276.7 571.8H326.9L320.8 562.7Z"/><path class="b" d="M282.8 562.7Q281.8 567.5 276.7 571.8M320.8 562.7Q321.8 567.5 326.9 571.8"/><path class="d" d="M285.6 563.2L294 568.2M317.8 563.2L309.4 568.2"/><path class="b" d="M294.4 562.7L294.4 571.8"/><path class="b" d="M298.8 562.7L298.8 571.8"/><path class="b" d="M303.2 562.7L303.2 571.8"/><path class="b" d="M307.7 562.7L307.7 571.8"/><path class="d" d="M310.2 562.7L310.2 571.8"/><rect class="w" x="264.5" y="571.8" width="73.6" height="25.1"/><path class="b" d="M264.5 577.3L338.1 577.3"/><path class="b" d="M264.5 591.8L338.1 591.8"/><path class="d" d="M264.5 593.2L338.1 593.2"/><rect x="264.5" y="571.8" width="73.6" height="25.1"/><path class="b" d="M264.5 571.8L338.1 571.8"/><path class="w" stroke="none" d="M273.4 597Q286.4 612 273.4 627.1H330.1Q317.1 612 330.1 597Z"/><path class="b" d="M273.4 597Q286.4 612 273.4 627.1"/><path class="b" d="M330.1 597Q317.1 612 330.1 627.1"/><path class="m" d="M274.75 597Q287.9 612 274.75 627.1"/><path class="m" d="M328.75 597Q315.6 612 328.75 627.1"/><path class="d" d="M275.92 597Q289.2 612 275.92 627.1"/><path class="d" d="M327.58 597Q314.3 612 327.58 627.1"/><path class="d" d="M278 597.4L286.4 606.7H317.1L325.5 597.4M286.4 606.7V627.1M317.1 606.7V627.1"/><path d="M288.7 597L288.7 627.1"/><path d="M290.5 597L290.5 627.1"/><path d="M293.9 597L293.9 627.1"/><path d="M295.7 597L295.7 627.1"/><path d="M299.1 597L299.1 627.1"/><path d="M300.9 597L300.9 627.1"/><path d="M304.1 597L304.1 627.1"/><path d="M305.9 597L305.9 627.1"/><path d="M309.3 597L309.3 627.1"/><path d="M311.1 597L311.1 627.1"/><path d="M314.3 597L314.3 627.1"/><path d="M316.1 597L316.1 627.1"/><rect class="d" x="261.8" y="625.7" width="5.6" height="8.8"/><rect class="d" x="335.4" y="625.7" width="5.6" height="8.8"/><rect class="w" x="259.2" y="627.1" width="84.2" height="6"/><path class="d" d="M262.3 627.1V633.1M266.9 627.1V633.1M335.9 627.1V633.1M340.5 627.1V633.1"/><rect x="259.2" y="627.1" width="84.2" height="6"/><path class="b" d="M274.4 634L331 634"/><rect class="w" x="294.4" y="634" width="14.3" height="16.4"/><path class="d" d="M299 649V638.8Q299 637.3 301.55 637.3Q304.1 637.3 304.1 638.8V649"/><rect class="m" x="294.4" y="634" width="14.3" height="16.4"/></g><path class="d" d="M474.7 501.6L474.7 690"/><path class="a" d="M474.7 501.6L475.85 506.6L473.55 506.6Z"/><path class="a" d="M474.7 591L473.55 586L475.85 586Z"/><path class="a" d="M474.7 591L475.85 596L473.55 596Z"/><path class="a" d="M474.7 690L473.55 685L475.85 685Z"/><path class="d" d="M473.8 501.6L505 501.6"/><path class="d" d="M473.8 591L499.6 591"/><path class="d" d="M473.8 690L519.3 690"/><text x="472.6" y="545" font-size="6" text-anchor="middle" transform="rotate(-90 472.6 545)">L<tspan font-size="3.72" dy="0.6">2</tspan></text><text x="472.6" y="634.4" font-size="6" text-anchor="middle" transform="rotate(-90 472.6 634.4)">L<tspan font-size="3.72" dy="0.6">1</tspan></text><path class="d" d="M499.1 671L499.1 695.5"/><path class="a" d="M499.1 674.3L500.25 679.3L497.95 679.3Z"/><path class="a" d="M499.1 690L497.95 685L500.25 685Z"/><text x="497.6" y="682.2" font-size="6" text-anchor="middle" transform="rotate(-90 497.6 682.2)">e1</text><path class="d" d="M519.3 699L533.6 699"/><path class="d" d="M519.3 690.6L519.3 700.2"/><path class="d" d="M533.6 690.6L533.6 700.2"/><path class="a" d="M519.3 699L522.5 698.2L522.5 699.8Z"/><path class="a" d="M533.6 699L530.4 699.8L530.4 698.2Z"/><text x="536.8" y="698.1" font-size="6.5" text-anchor="start" letter-spacing=".35">Φd1</text>
</svg>
</div></body></html>
